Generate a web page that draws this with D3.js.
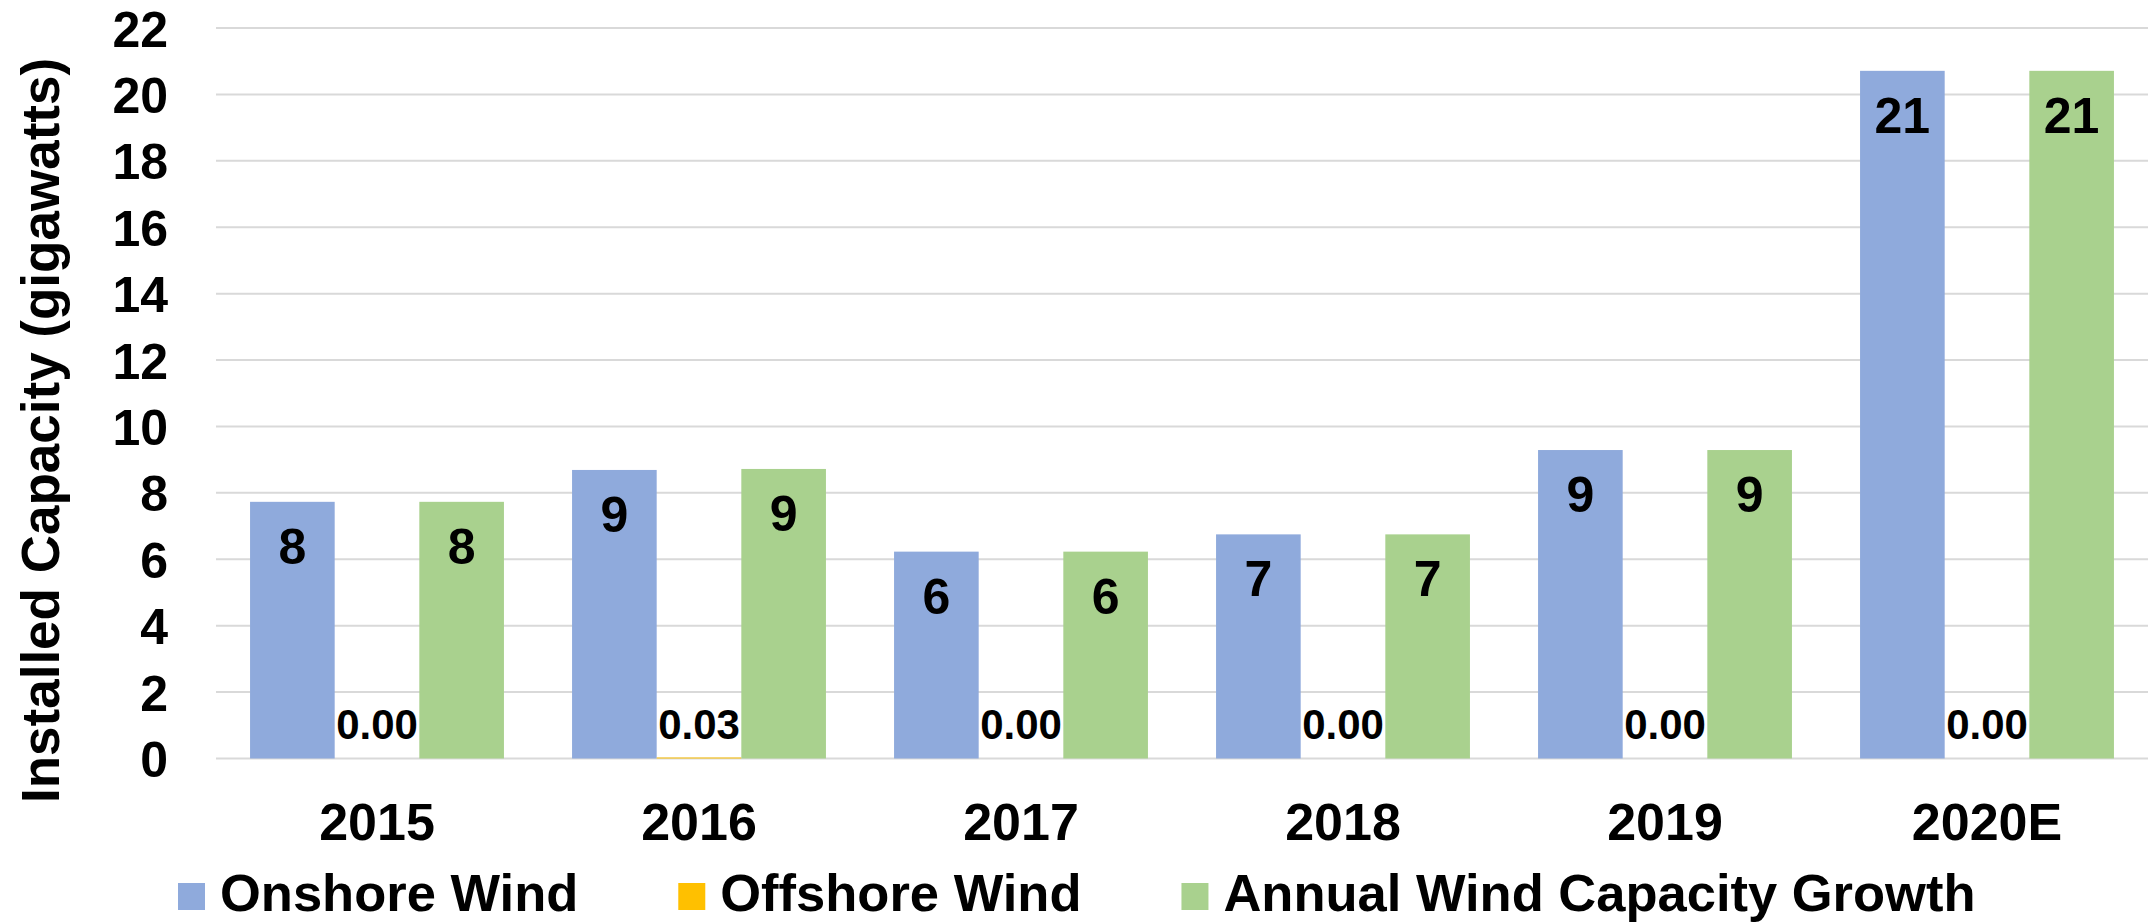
<!DOCTYPE html>
<html>
<head>
<meta charset="utf-8">
<script src="https://cdn.jsdelivr.net/npm/d3@7"></script>
<style>
  html, body { margin: 0; padding: 0; background: #ffffff; }
  svg { display: block; font-family: "Liberation Sans", Arial, Helvetica, sans-serif; font-weight: bold; }
</style>
</head>
<body>
<svg id="chart" width="2150" height="923"></svg>
<script>
// ---- Data ----
const categories = ["2015", "2016", "2017", "2018", "2019", "2020E"];
const seriesNames = ["Onshore Wind", "Offshore Wind", "Annual Wind Capacity Growth"];
const onshoreWind = [7.73, 8.69, 6.23, 6.75, 9.29, 20.71];
const offshoreWind = [0.00, 0.03, 0.00, 0.00, 0.00, 0.00];
const annualGrowth = [7.73, 8.72, 6.23, 6.75, 9.29, 20.71];
const yTicks = [0, 2, 4, 6, 8, 10, 12, 14, 16, 18, 20, 22];
const yTitle = "Installed Capacity (gigawatts)";

const colors = ["#8FAADC", "#FFC000", "#A9D18E"];
const seriesValues = [onshoreWind, offshoreWind, annualGrowth];
const labelFormats = [d3.format(".0f"), d3.format(".2f"), d3.format(".0f")];

// ---- Layout ----
const svg = d3.select("#chart");
const plotLeft = 216, plotRight = 2148, plotTop = 28, plotBottom = 758.5;

const x = d3.scaleBand().domain(categories).range([plotLeft, plotRight])
  .paddingInner(0.2115).paddingOuter(0.10575);
const xInner = d3.scaleBand().domain(d3.range(seriesNames.length)).range([0, x.bandwidth()]).padding(0);
const y = d3.scaleLinear().domain([0, 22]).range([plotBottom, plotTop]);

// Gridlines
svg.append("g").selectAll("line").data(yTicks).join("line")
  .attr("x1", plotLeft).attr("x2", plotRight)
  .attr("y1", d => y(d)).attr("y2", d => y(d))
  .attr("stroke", "#D9D9D9").attr("stroke-width", 2);

// Y axis tick labels
const yAxis = d3.axisLeft(y).tickValues(yTicks).tickSize(0).tickPadding(0);
const yg = svg.append("g").attr("transform", "translate(168,0)").call(yAxis);
yg.select(".domain").remove();
yg.selectAll("text").attr("font-size", 50).attr("font-weight", "bold")
  .attr("font-family", "'Liberation Sans', Arial, sans-serif").attr("fill", "#000").attr("dy", "0.36em");

// X axis labels
const xAxis = d3.axisBottom(x).tickSize(0).tickPadding(0);
const xg = svg.append("g").attr("transform", `translate(0,${plotBottom})`).call(xAxis);
xg.select(".domain").remove();
xg.selectAll("text").attr("font-size", 52).attr("font-weight", "bold")
  .attr("font-family", "'Liberation Sans', Arial, sans-serif").attr("fill", "#000")
  .attr("y", 840 - plotBottom).attr("dy", 0);

// Y axis title
svg.append("text")
  .attr("transform", "translate(59,430.5) rotate(-90)")
  .attr("text-anchor", "middle")
  .attr("font-size", 53)
  .attr("fill", "#000")
  .text(yTitle);

// Bars
const rows = [];
categories.forEach((c, i) => {
  seriesValues.forEach((vals, s) => rows.push({ cat: c, s: s, v: vals[i] }));
});

svg.append("g").selectAll("rect").data(rows).join("rect")
  .attr("x", d => x(d.cat) + xInner(d.s))
  .attr("width", xInner.bandwidth())
  .attr("y", d => y(d.v))
  .attr("height", d => y(0) - y(d.v))
  .attr("fill", d => colors[d.s]);

// Data labels
svg.append("g").selectAll("text").data(rows).join("text")
  .attr("x", d => x(d.cat) + xInner(d.s) + xInner.bandwidth() / 2)
  .attr("y", d => d.s === 1 ? y(0) - 20 : y(d.v) + 62)
  .attr("text-anchor", "middle")
  .attr("font-size", d => d.s === 1 ? 42 : 50)
  .attr("fill", "#000")
  .text(d => labelFormats[d.s](d.v));

// Legend
const legend = svg.append("g");
let lx = 178;
seriesNames.forEach((name, i) => {
  legend.append("rect").attr("x", lx).attr("y", 883).attr("width", 27).attr("height", 27).attr("fill", colors[i]);
  const t = legend.append("text").attr("x", lx + 42).attr("y", 911).attr("font-size", 52.5).attr("fill", "#000").text(name);
  const w = t.node().getComputedTextLength();
  lx = lx + 42 + w + 100;
});
</script>
</body>
</html>
